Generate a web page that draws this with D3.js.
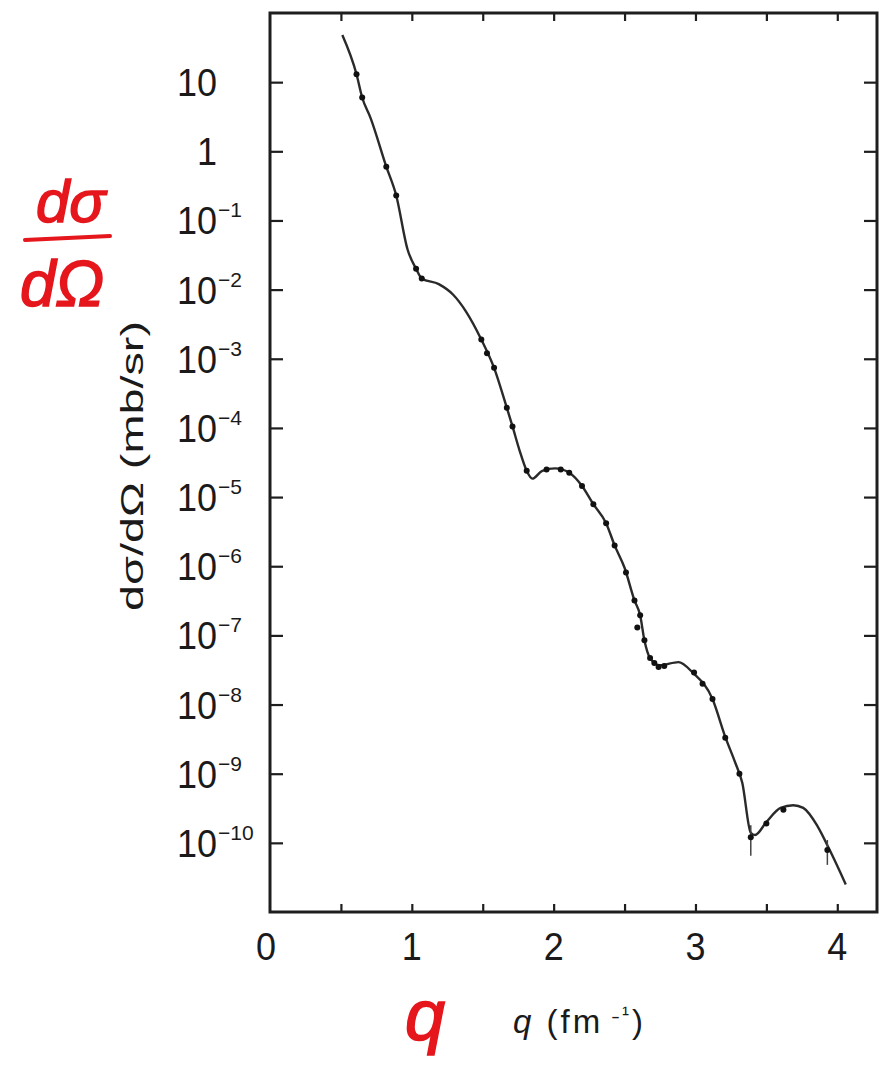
<!DOCTYPE html>
<html>
  <head>
    <meta charset="utf-8" />
    <title>Form factor</title>
    <script src="https://d3js.org/d3.v7.min.js"></script>
    <style>
      body {
        margin: 0;
        background: #fff;
      }
      text {
        font-family: "Liberation Sans", Arial, sans-serif;
        fill: #1a1a1a;
      }
    </style>
  </head>
  <body>

    <svg id="chart"></svg>

    <script>

      // theory curve
      var curveQ = [0.51, 0.61, 0.65, 0.71, 0.82, 0.89, 0.97, 1.03, 1.07, 1.19,
        1.29, 1.38, 1.49, 1.58, 1.67, 1.71, 1.76, 1.81, 1.85, 1.92,
        2.01, 2.11, 2.20, 2.28, 2.37, 2.43, 2.50, 2.57, 2.61, 2.64,
        2.68, 2.75, 2.88, 2.98, 3.12, 3.21, 3.28, 3.33, 3.39, 3.42,
        3.50, 3.60, 3.69, 3.76, 3.86, 3.95, 4.06];
      var curveSigma = [4.8e1, 1.3e1, 6.0, 3.0, 6.0e-1, 2.3e-1, 3.8e-2, 2.0e-2, 1.45e-2, 1.2e-2,
        8.5e-3, 4.9e-3, 1.9e-3, 7.4e-4, 1.95e-4, 1.05e-4, 4.7e-5, 2.4e-5, 1.85e-5, 2.4e-5,
        2.6e-5, 2.25e-5, 1.45e-5, 7.9e-6, 4.2e-6, 2.0e-6, 9.5e-7, 3.2e-7, 1.95e-7, 8.5e-8,
        4.7e-8, 3.7e-8, 4.1e-8, 2.9e-8, 1.2e-8, 3.4e-9, 1.45e-9, 7.4e-10, 1.4e-10, 1.3e-10,
        2.0e-10, 3.2e-10, 3.5e-10, 3.2e-10, 1.75e-10, 7.6e-11, 2.5e-11];

      // measured points
      var dataQ = [0.61, 0.65, 0.82, 0.89, 1.03, 1.07, 1.49, 1.53, 1.58, 1.67,
        1.71, 1.81, 1.95, 2.05, 2.11, 2.20, 2.28, 2.37, 2.43, 2.51,
        2.57, 2.59, 2.61, 2.64, 2.68, 2.71, 2.74, 2.78, 2.99, 3.05,
        3.12, 3.21, 3.31, 3.39, 3.50, 3.62, 3.93];
      var dataSigma = [1.3e1, 6.0, 6.0e-1, 2.3e-1, 2.0e-2, 1.45e-2, 1.9e-3, 1.2e-3, 7.4e-4, 1.95e-4,
        1.05e-4, 2.4e-5, 2.5e-5, 2.5e-5, 2.25e-5, 1.45e-5, 7.9e-6, 4.2e-6, 2.0e-6, 8.1e-7,
        3.2e-7, 1.3e-7, 1.95e-7, 8.5e-8, 4.7e-8, 4.0e-8, 3.5e-8, 3.6e-8, 2.9e-8, 2.0e-8,
        1.2e-8, 3.3e-9, 1.0e-9, 1.2e-10, 1.9e-10, 3.0e-10, 7.9e-11];

      var errQ = [3.39, 3.93];
      var errLo = [6.5e-11, 4.8e-11];
      var errHi = [1.8e-10, 1.1e-10];

      var yExponents = [1, 0, -1, -2, -3, -4, -5, -6, -7, -8, -9, -10];
      var xTickValues = [0.5, 1, 1.5, 2, 2.5, 3, 3.5, 4];
      var xLabels = [0, 1, 2, 3, 4];

      var width = 884;
      var height = 1066;
      var plot = { left: 270, right: 877, top: 13, bottom: 912 };
      var ink = "#1e1e1e";
      var red = "#e5161c";

      var svg = d3.select("#chart")
        .attr("width", width)
        .attr("height", height);

      var x = d3.scaleLinear()
        .domain([0, 4.28])
        .range([plot.left, plot.right]);

      var y = d3.scaleLog()
        .domain([1e-11, 1e2])
        .range([plot.bottom, plot.top]);

      var decades = yExponents.map(function(e) { return Math.pow(10, e); });

      // ticks, all pointing inward
      function styleAxis(g) {
        g.select(".domain").remove();
        g.selectAll(".tick line").attr("stroke", ink).attr("stroke-width", 2.2);
      }

      svg.append("g")
        .attr("transform", "translate(" + plot.left + ",0)")
        .call(d3.axisLeft(y).tickValues(decades).tickSize(-13).tickFormat(""))
        .call(styleAxis);

      svg.append("g")
        .attr("transform", "translate(" + plot.right + ",0)")
        .call(d3.axisRight(y).tickValues(decades).tickSize(-13).tickFormat(""))
        .call(styleAxis);

      svg.append("g")
        .attr("transform", "translate(0," + plot.bottom + ")")
        .call(d3.axisBottom(x).tickValues(xTickValues).tickSize(-8).tickFormat(""))
        .call(styleAxis);

      svg.append("g")
        .attr("transform", "translate(0," + plot.top + ")")
        .call(d3.axisTop(x).tickValues(xTickValues).tickSize(-8).tickFormat(""))
        .call(styleAxis);

      // frame
      svg.append("rect")
        .attr("x", plot.left)
        .attr("y", plot.top)
        .attr("width", plot.right - plot.left)
        .attr("height", plot.bottom - plot.top)
        .attr("fill", "none")
        .attr("stroke", ink)
        .attr("stroke-width", 3);

      // y tick labels: "10" with a raised exponent
      var yLab = svg.append("g").selectAll("g")
        .data(yExponents)
        .join("g")
        .attr("transform", function(e) {
          return "translate(217," + y(Math.pow(10, e)) + ")";
        });

      yLab.append("text")
        .attr("text-anchor", "end")
        .attr("transform", "translate(0,14) scale(1,1.1)")
        .style("font-size", "36px")
        .text(function(e) { return e === 0 ? "1" : "10"; });

      yLab.append("text")
        .attr("x", 1)
        .attr("y", -3)
        .style("font-size", "21px")
        .text(function(e) { return e < 0 ? "\u2212" + (-e) : ""; });

      // x tick labels
      svg.append("g").selectAll("text")
        .data(xLabels)
        .join("text")
        .attr("text-anchor", "middle")
        .attr("transform", function(d) {
          return "translate(" + (x(d) - (d === 0 ? 4 : 0)) + ",960) scale(1,1.1)";
        })
        .style("font-size", "36px")
        .text(function(d) { return d; });

      // curve
      var line = d3.line()
        .x(function(d) { return x(d[0]); })
        .y(function(d) { return y(d[1]); })
        .curve(d3.curveMonotoneX);

      svg.append("path")
        .datum(d3.zip(curveQ, curveSigma))
        .attr("d", line)
        .attr("fill", "none")
        .attr("stroke", "#2a2a2a")
        .attr("stroke-width", 2.4);

      // error bars
      svg.append("g").selectAll("line")
        .data(d3.range(errQ.length))
        .join("line")
        .attr("x1", function(i) { return x(errQ[i]); })
        .attr("x2", function(i) { return x(errQ[i]); })
        .attr("y1", function(i) { return y(errLo[i]); })
        .attr("y2", function(i) { return y(errHi[i]); })
        .attr("stroke", "#444")
        .attr("stroke-width", 1.5);

      // data points
      svg.append("g").selectAll("circle")
        .data(d3.zip(dataQ, dataSigma))
        .join("circle")
        .attr("cx", function(d) { return x(d[0]); })
        .attr("cy", function(d) { return y(d[1]); })
        .attr("r", 3)
        .attr("fill", "#111");

      // axis titles
      svg.append("text")
        .attr("transform", "translate(143,466) rotate(-90)")
        .attr("text-anchor", "middle")
        .attr("textLength", 290)
        .attr("lengthAdjust", "spacingAndGlyphs")
        .style("font-size", "31px")
        .text("d\u03c3/d\u03a9 (mb/sr)");

      var xTitle = svg.append("text")
        .attr("x", 513)
        .attr("y", 1033)
        .style("font-size", "33px")
        .style("letter-spacing", "3px");
      xTitle.append("tspan").style("font-style", "italic").text("q");
      xTitle.append("tspan").text(" (fm");
      xTitle.append("tspan").attr("dy", -12).style("font-size", "21px").text(" \u02d7\u00b9");
      xTitle.append("tspan").attr("dy", 12).text(")");

      // red handwritten notes
      var note = svg.append("g")
        .style("fill", red)
        .style("stroke", red)
        .style("font-family", "'DejaVu Sans', sans-serif")
        .style("font-style", "italic");

      note.append("text")
        .attr("x", 36)
        .attr("y", 222)
        .style("fill", red)
        .style("stroke-width", 1.5)
        .style("font-size", "60px")
        .text("d\u03c3");

      note.append("line")
        .attr("x1", 25).attr("y1", 240)
        .attr("x2", 110).attr("y2", 236)
        .style("stroke-width", 4)
        .style("stroke-linecap", "round");

      note.append("text")
        .attr("x", 20)
        .attr("y", 306)
        .style("fill", red)
        .style("stroke-width", 1.5)
        .style("font-size", "64px")
        .text("d\u03a9");

      note.append("text")
        .attr("x", 405)
        .attr("y", 1040)
        .style("fill", red)
        .style("stroke-width", 1.5)
        .style("font-size", "72px")
        .text("q");

    </script>
  </body>
</html>
